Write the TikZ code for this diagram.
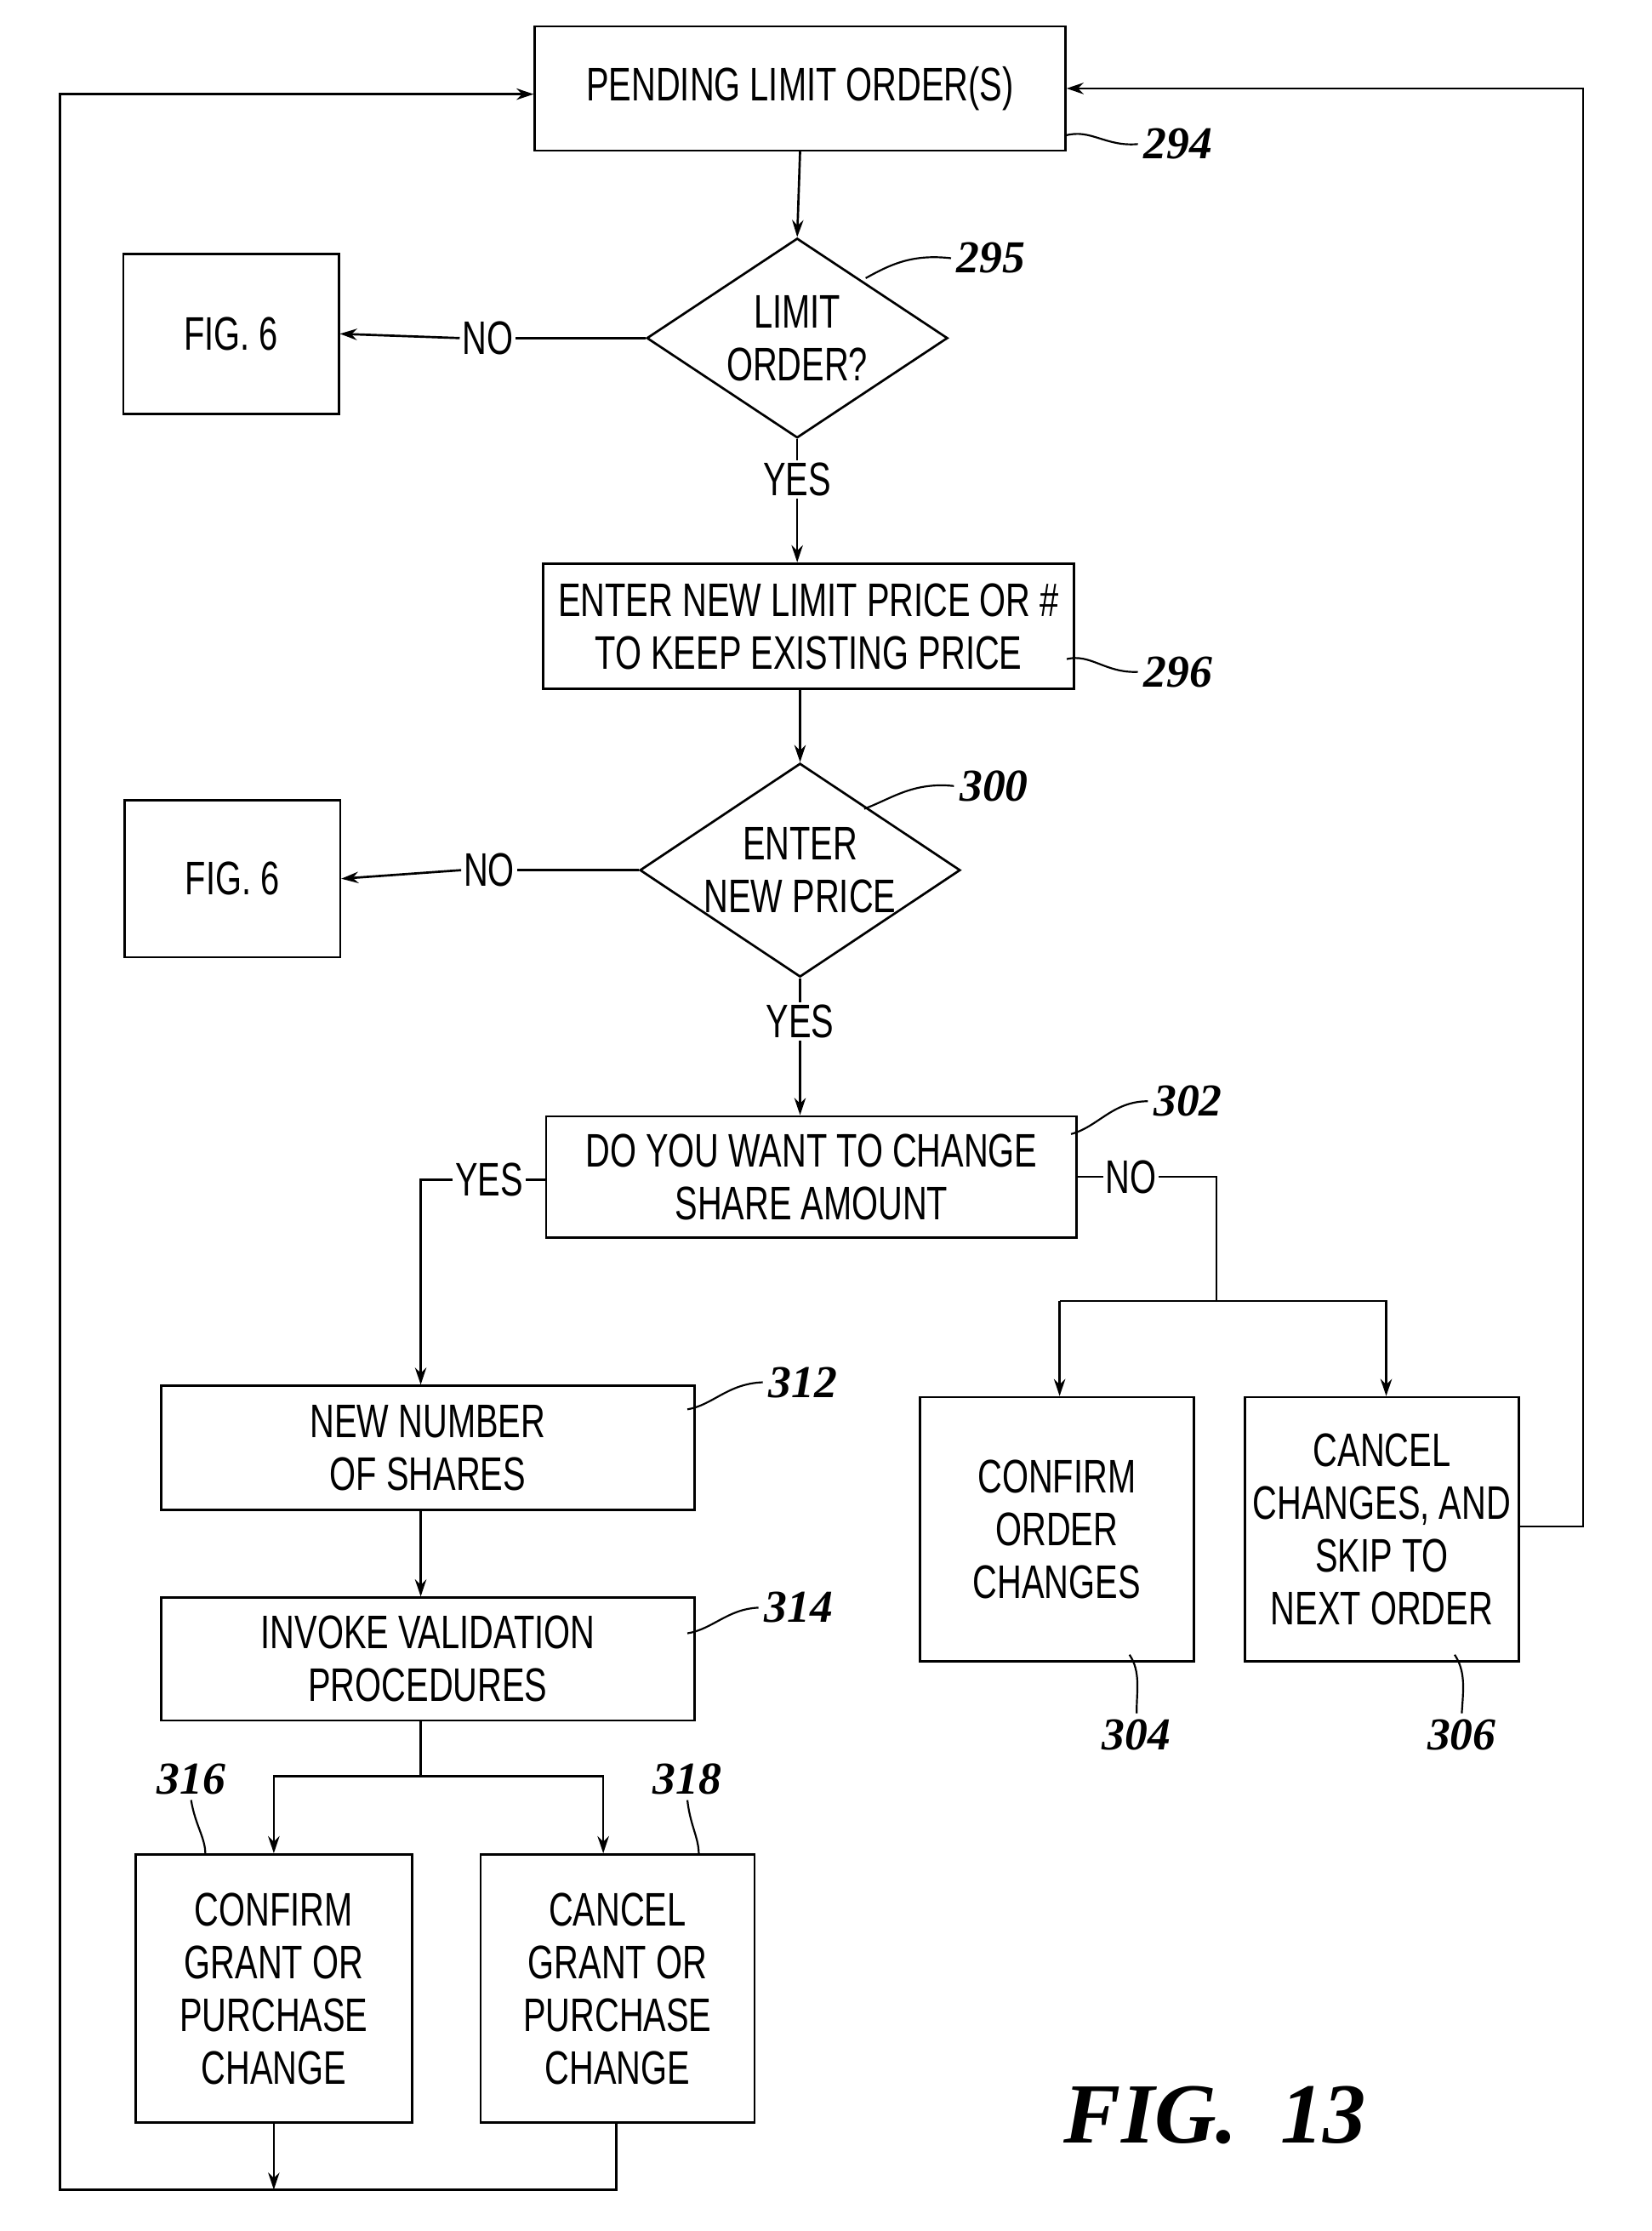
\documentclass[tikz,border=0pt]{standalone}
\usepackage{fontspec}
\setmainfont{Liberation Sans}[FakeStretch=0.72]
\newfontfamily\reff{Liberation Serif}
\usetikzlibrary{shapes.geometric,arrows.meta}
\begin{document}
\begin{tikzpicture}[x=1pt,y=-1pt,line width=1.6pt,
 txt/.style={font=\fontsize{33}{37}\selectfont,align=center},
 box/.style={draw,txt,inner sep=0pt},
 dia/.style={draw,diamond,aspect=1.5,txt,inner sep=0pt},
 lab/.style={font=\reff\bfseries\itshape\fontsize{32}{32}\selectfont},
 arr/.style={-{Stealth[length=12pt,width=8pt]}},
 lead/.style={line width=1.3pt}]
\useasboundingbox (0,0) rectangle (1158,1564);
\node[box,minimum width=372,minimum height=87] (a) at (561,62) {PENDING LIMIT ORDER(S)};
\node[dia,minimum width=211,minimum height=140] (d1) at (559,237) {LIMIT\\ORDER?};
\node[box,minimum width=151,minimum height=112] (f1) at (162,234) {FIG. 6};
\node[box,minimum width=372,minimum height=88] (b) at (567,439) {ENTER NEW LIMIT PRICE OR \#\\TO KEEP EXISTING PRICE};
\node[dia,minimum width=212,minimum height=138] (d2) at (561,610) {ENTER\\NEW PRICE};
\node[box,minimum width=151,minimum height=110] (f2) at (163,616) {FIG. 6};
\node[box,minimum width=372,minimum height=85] (c) at (569,825) {DO YOU WANT TO CHANGE\\SHARE AMOUNT};
\node[box,minimum width=374,minimum height=87] (e) at (300,1015) {NEW NUMBER\\OF SHARES};
\node[box,minimum width=374,minimum height=86] (g) at (300,1163) {INVOKE VALIDATION\\PROCEDURES};
\node[box,minimum width=194,minimum height=188] (h) at (192,1394) {CONFIRM\\GRANT OR\\PURCHASE\\CHANGE};
\node[box,minimum width=192,minimum height=188] (i) at (433,1394) {CANCEL\\GRANT OR\\PURCHASE\\CHANGE};
\node[box,minimum width=192,minimum height=185] (j) at (741,1072) {CONFIRM\\ORDER\\CHANGES};
\node[box,minimum width=192,minimum height=185] (k) at (969,1072) {CANCEL\\CHANGES, AND\\SKIP TO\\NEXT ORDER};
\node[txt,fill=white,inner sep=1pt] (n1) at (342,237) {NO};
\node[txt,fill=white,inner sep=1pt] (y1) at (559,336) {YES};
\node[txt,fill=white,inner sep=1pt] (n2) at (343,610) {NO};
\node[txt,fill=white,inner sep=1pt] (y2) at (561,716) {YES};
\node[txt,fill=white,inner sep=1pt] (y3) at (343,827) {YES};
\node[txt,fill=white,inner sep=1pt] (n3) at (793,825) {NO};
% connectors
\draw[arr] (a.south) -- (d1.north);
\draw (d1.west) -- (n1.east); \draw[arr] (n1.west) -- (f1.east);
\draw (d1.south) -- (y1.north); \draw[arr] (y1.south) -- (b.north-|y1);
\draw[arr] (b.south-|d2) -- (d2.north);
\draw (d2.west) -- (n2.east); \draw[arr] (n2.west) -- (f2.east);
\draw (d2.south) -- (y2.north); \draw[arr] (y2.south) -- (c.north-|y2);
\coordinate (cl) at (c.west|-y3);
\draw (cl) -- (y3.east);
\coordinate (yl) at (295,827);
\draw[arr] (y3.west) -- (yl) -- (e.north-|yl);
\coordinate (cr) at (c.east|-n3);
\draw (cr) -- (n3.west);
\coordinate (nr) at (853,825); \coordinate (nb) at (853,912);
\coordinate (s1) at (743,912); \coordinate (s2) at (972,912);
\draw (n3.east) -- (nr) -- (nb);
\draw[arr] (s1) -- (s1|-j.north);
\draw[arr] (s1) -- (s2) -- (s2|-k.north);
\draw[arr] (e.south-|yl) -- (g.north-|yl);
\coordinate (gb) at (295,1245); \coordinate (t1) at (192,1245); \coordinate (t2) at (423,1245);
\draw (g.south-|gb) -- (gb);
\draw[arr] (gb) -- (t1) -- (t1|-h.north);
\draw[arr] (gb) -- (t2) -- (t2|-i.north);
\coordinate (kr) at (1110,1070); \coordinate (kt) at (1110,62);
\draw[arr] (k.east|-kr) -- (kr) -- (kt) -- (a.east);
\coordinate (ib) at (432,1535); \coordinate (lb) at (42,1535); \coordinate (lt) at (42,66);
\draw[arr] (i.south-|ib) -- (ib) -- (lb) -- (lt) -- (a.west|-lt);
\draw[arr] (h.south) -- (h.south|-ib);
% reference labels
\node[lab] (l294) at (826,101) {294};
\node[lab] (l295) at (695,181) {295};
\node[lab] (l296) at (826,471) {296};
\node[lab] (l300) at (697,551) {300};
\node[lab] (l302) at (833,772) {302};
\node[lab] (l312) at (563,969) {312};
\node[lab] (l314) at (560,1127) {314};
\node[lab] (l304) at (797,1216) {304};
\node[lab] (l306) at (1025,1216) {306};
\node[lab] (l316) at (134,1247) {316};
\node[lab] (l318) at (482,1247) {318};
\draw[lead] (747,95) .. controls (765,90) and (775,103) .. (l294.west);
\draw[lead] (607,195) .. controls (625,185) and (640,178) .. (l295.west);
\draw[lead] (748,462) .. controls (765,458) and (775,472) .. (l296.west);
\draw[lead] (606,567) .. controls (625,560) and (640,548) .. (l300.west);
\draw[lead] (751,795) .. controls (770,790) and (780,772) .. (l302.west);
\draw[lead] (482,988) .. controls (500,985) and (510,970) .. (l312.west);
\draw[lead] (482,1145) .. controls (500,1142) and (510,1128) .. (l314.west);
\draw[lead] (792,1160) .. controls (800,1172) and (797,1185) .. (l304.north);
\draw[lead] (1020,1160) .. controls (1028,1172) and (1026,1185) .. (l306.north);
\draw[lead] (l316.south) .. controls (137,1280) and (144,1288) .. (144,1300);
\draw[lead] (l318.south) .. controls (484,1280) and (490,1288) .. (490,1300);
\node[font=\reff\bfseries\itshape\fontsize{60}{60}\selectfont] (fig) at (852,1483) {FIG.\ \ 13};
\end{tikzpicture}
\end{document}
